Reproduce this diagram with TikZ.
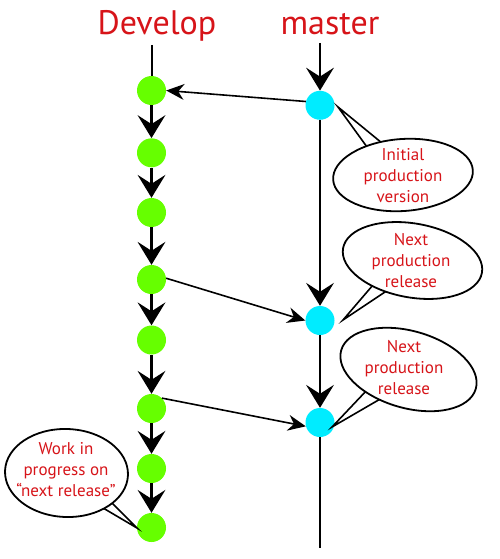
\documentclass[tikz,border=0pt]{standalone}
\usepackage{fontspec}
\setmainfont{PT Sans}
\usetikzlibrary{arrows.meta,shapes.geometric}
\definecolor{txtred}{RGB}{215,20,25}
\definecolor{devgreen}{RGB}{102,255,0}
\definecolor{mascyan}{RGB}{0,236,255}
\begin{document}
\begin{tikzpicture}[x=1pt,y=-1pt,
  commit/.style={circle,minimum size=29pt,inner sep=0pt},
  dev/.style={commit,fill=devgreen},
  mas/.style={commit,fill=mascyan},
  flow/.style={line width=2.6pt,-{Stealth[length=23pt,width=28pt,inset=9pt,line width=0pt]}},
  merge/.style={line width=1.6pt,-{Stealth[length=18pt,width=16pt,inset=6pt,line width=0pt]}},
  title/.style={text=txtred,font=\fontsize{34}{40}\selectfont,anchor=base,inner sep=0pt},
  bubble/.style={draw,fill=white,ellipse,line width=1.8pt,inner sep=0pt},
  note/.style={text=txtred,font=\fontsize{17}{21}\selectfont,align=center,inner sep=0pt},
  tail/.style={line width=1.6pt,line join=miter}]
\fill[white] (0,0) rectangle (500,559);
\useasboundingbox (0,0) rectangle (500,559);
% titles
\node[title] (tdev) at (157,35) {Develop};
\node[title] (tmas) at (330,35) {master};
% free ends
\coordinate (devtop) at (151.5,45);
\coordinate (mastop) at (320,43);
\coordinate (masend) at (320,548);
% commits
\node[dev] (d1) at (151.5,90.5) {};
\node[dev] (d2) at (151.5,152.8) {};
\node[dev] (d3) at (151.5,212.5) {};
\node[dev] (d4) at (151.5,279.5) {};
\node[dev] (d5) at (151.5,340) {};
\node[dev] (d6) at (151.5,408.5) {};
\node[dev] (d7) at (151.5,468.5) {};
\node[dev] (d8) at (151.5,527.5) {};
\node[mas] (m1) at (320,105.3) {};
\node[mas] (m2) at (320,320.5) {};
\node[mas] (m3) at (320,422.5) {};
% develop line
\draw[line width=2pt] (devtop) -- (d1);
\draw[flow] (d1) -- (d2);
\draw[flow] (d2) -- (d3);
\draw[flow] (d3) -- (d4);
\draw[flow] (d4) -- (d5);
\draw[flow] (d5) -- (d6);
\draw[flow] (d6) -- (d7);
\draw[flow] (d7) -- (d8);
% master line
\draw[flow] (mastop) -- (m1);
\draw[flow] (m1) -- (m2);
\draw[flow] (m2) -- (m3);
\draw[line width=2.4pt] (m3) -- (masend);
% merges
\draw[merge] (m1.165) -- (d1.east);
\draw[merge] (d4.5) -- (m2.180);
\draw[merge] (d6.45) -- (m3.195);
% callout tails
\coordinate (tip1) at (338,107);
\coordinate (t1a) at (371,152.5);
\coordinate (t1b) at (386,146.3);
\coordinate (tip2) at (343,320);
\coordinate (t2a) at (376.6,280.8);
\coordinate (t2b) at (393.4,286.4);
\coordinate (tip3) at (332,427);
\coordinate (t3a) at (371.2,385.6);
\coordinate (t3b) at (388,394.5);
\coordinate (tip4) at (137,528);
\coordinate (t4a) at (99,505.6);
\coordinate (t4b) at (109,500);
\draw[tail] (t1a) -- (tip1) -- (t1b);
\draw[tail] (t2a) -- (tip2) -- (t2b);
\draw[tail] (t3a) -- (tip3) -- (t3b);
\draw[tail] (t4a) -- (tip4) -- (t4b);
% bubbles
\node[bubble,minimum width=140pt,minimum height=72pt,rotate=4] (b1) at (403,175) {};
\node[bubble,minimum width=141pt,minimum height=74pt,rotate=-10] (b2) at (412.5,260.5) {};
\node[bubble,minimum width=140pt,minimum height=77pt,rotate=-16] (b3) at (408.5,369.5) {};
\node[bubble,minimum width=123pt,minimum height=88pt,rotate=-2] (b4) at (66.5,473) {};
\node[note] (n1) at (403,176) {Initial\\production\\version};
\node[note] (n2) at (411,261) {Next\\production\\release};
\node[note] (n3) at (404,368) {Next\\production\\release};
\node[note] (n4) at (66,470) {Work in\\progress on\\“next release”};
\end{tikzpicture}
\end{document}
